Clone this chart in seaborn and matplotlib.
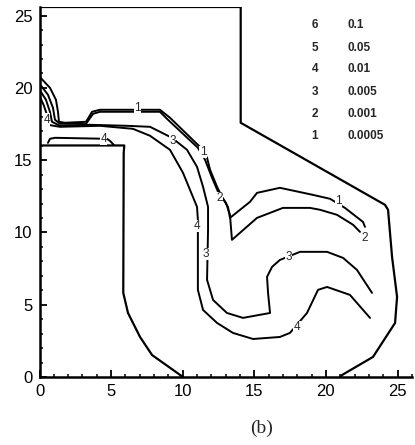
import numpy as np
import pandas as pd
import matplotlib
matplotlib.use("Agg")
import matplotlib.pyplot as plt
from matplotlib.ticker import MultipleLocator
import seaborn as sns

# ---- domain outline (x, y) ----
outline_x = [0, 14.05, 14.05, 24.13, 24.34, 24.62, 24.97, 24.83, 23.29, 21.13, 20.99]
outline_y = [25.6, 25.6, 17.59, 11.91, 11.57, 8.31, 5.54, 3.74, 1.39, 0.14, 0.0]
block_x = [0, 5.92, 5.88, 5.85, 6.18, 7.02, 7.86, 10.02]
block_y = [16.02, 16.02, 15.5, 5.82, 4.43, 2.77, 1.52, 0.0]

# ---- contour lines ----
c1_x = [0, 0.73, 1.15, 1.29, 1.36, 1.78, 3.25, 3.67, 4.22, 8.41, 9.11, 11.2, 11.7, 11.91,
        12.4, 12.74, 13.16, 13.3, 14.7, 15.19, 16.79, 19.1, 20.29, 21.33, 22.59, 22.73]
c1_y = [20.78, 20.01, 19.18, 18.35, 17.66, 17.59, 17.66, 18.35, 18.49, 18.49, 17.94, 15.93,
        15.17, 14.34, 13.16, 12.47, 11.77, 11.01, 12.12, 12.74, 13.09, 12.6, 12.33, 11.7,
        10.73, 10.39]
c2_x = [0, 0.59, 0.94, 1.08, 1.43, 3.25, 3.74, 4.22, 8.41, 8.97, 11.06, 11.56, 12.05, 12.47,
        13.02, 13.3, 13.44, 15.19, 17.0, 18.89, 19.59, 20.78, 21.9, 22.38]
c2_y = [20.29, 19.53, 18.63, 17.8, 17.52, 17.52, 18.21, 18.35, 18.35, 17.8, 15.86, 15.03,
        13.78, 12.81, 12.05, 11.22, 9.49, 11.01, 11.7, 11.7, 11.57, 11.22, 10.53, 10.04]
c3_x = [0, 0.45, 0.73, 0.87, 1.43, 3.53, 6.11, 7.72, 9.25, 10.3, 11.0, 11.42, 11.77, 11.77,
        11.7, 12.12, 13.09, 14.21, 16.1, 15.96, 15.89, 16.24, 16.79, 18.19, 20.08, 21.2,
        22.17, 23.22]
c3_y = [19.88, 19.18, 18.35, 17.66, 17.38, 17.45, 17.38, 17.31, 16.55, 15.72, 14.54, 13.16,
        11.77, 10.18, 6.72, 5.33, 4.43, 4.09, 4.43, 5.82, 6.93, 7.62, 8.1, 8.66, 8.66, 8.24,
        7.41, 5.82]
c4_x = [0, 0.31, 0.52, 0.59, 1.43, 4.22, 6.53, 7.72, 9.11, 10.02, 10.51, 11.0, 11.06, 11.06,
        11.06, 11.42, 12.4, 13.51, 14.91, 16.79, 17.49, 18.68, 19.45, 20.08, 21.68, 23.08]
c4_y = [19.46, 18.77, 18.14, 17.45, 17.31, 17.38, 17.17, 16.69, 15.72, 14.13, 12.95, 11.77,
        10.87, 8.1, 6.03, 4.64, 3.74, 3.05, 2.63, 2.77, 3.05, 4.43, 6.03, 6.23, 5.68, 4.09]
c4b_x = [0.59, 0.73, 1.08, 4.71, 4.92, 5.2]
c4b_y = [16.2, 16.48, 16.55, 16.48, 16.34, 16.05]

# ---- contour labels ----
lab_text = ["1", "1", "1", "2", "2", "3", "3", "3", "4", "4", "4", "4"]
lab_x = [6.82, 11.42, 20.85, 12.6, 22.68, 9.32, 11.63, 17.42, 11.0, 17.98, 4.5, 0.5]
lab_y = [18.63, 15.58, 12.19, 12.4, 9.6, 16.34, 8.52, 8.31, 10.46, 3.46, 16.5, 17.8]

# ---- level key ----
key_ids = ["6", "5", "4", "3", "2", "1"]
key_vals = ["0.1", "0.05", "0.01", "0.005", "0.001", "0.0005"]
key_y = [24.38, 22.78, 21.33, 19.74, 18.21, 16.69]

paths = {"outline": (outline_x, outline_y), "block": (block_x, block_y),
         "c1": (c1_x, c1_y), "c2": (c2_x, c2_y), "c3": (c3_x, c3_y),
         "c4": (c4_x, c4_y), "c4b": (c4b_x, c4b_y)}
rows = []
for name, (xs, ys) in paths.items():
    for i, (a, b) in enumerate(zip(xs, ys)):
        rows.append({"path": name, "order": i, "x": a, "y": b})
df = pd.DataFrame(rows)

sns.set_style("ticks")
plt.rcParams["font.family"] = ["Liberation Sans", "DejaVu Sans"]

fig = plt.figure(figsize=(4.15, 4.45), dpi=100)
ax = fig.add_axes([39.5 / 415, 68 / 445, 26 * 14.32 / 415, 370 / 445])

geo = df[df["path"].isin(["outline", "block"])]
con = df[~df["path"].isin(["outline", "block"])]
sns.lineplot(data=geo, x="x", y="y", units="path", estimator=None, sort=False,
             color="black", linewidth=1.6, ax=ax)
sns.lineplot(data=con, x="x", y="y", units="path", estimator=None, sort=False,
             color="black", linewidth=1.4, ax=ax)

for t, a, b in zip(lab_text, lab_x, lab_y):
    ax.text(a, b, t, fontsize=8.5, ha="center", va="center", zorder=5,
            bbox=dict(facecolor="white", edgecolor="none", pad=0.2))

for i, v, yy in zip(key_ids, key_vals, key_y):
    ax.text(19.24, yy, i, fontsize=8.5, ha="center", va="center", fontweight="bold")
    ax.text(21.54, yy, v, fontsize=8.5, ha="left", va="center", fontweight="bold")

ax.set_xlim(0, 26)
ax.set_ylim(0, 25.6)
ax.set_xlabel("")
ax.set_ylabel("")
ax.xaxis.set_major_locator(MultipleLocator(5))
ax.yaxis.set_major_locator(MultipleLocator(5))
ax.xaxis.set_minor_locator(MultipleLocator(1))
ax.yaxis.set_minor_locator(MultipleLocator(1))
ax.tick_params(which="major", direction="in", length=5, width=1.3, labelsize=12,
               pad=5, colors="black")
ax.tick_params(which="minor", direction="in", length=2.5, width=1.1, colors="black")
sns.despine(ax=ax, top=True, right=True)
for s in ["left", "bottom"]:
    ax.spines[s].set_linewidth(1.8)
    ax.spines[s].set_color("black")

fig.text(262 / 415, 1 - 428 / 445, "(b)", fontsize=14, ha="center", va="center",
         family=["Liberation Serif", "DejaVu Serif"])

fig.savefig("out.png", dpi=100, facecolor="white")
